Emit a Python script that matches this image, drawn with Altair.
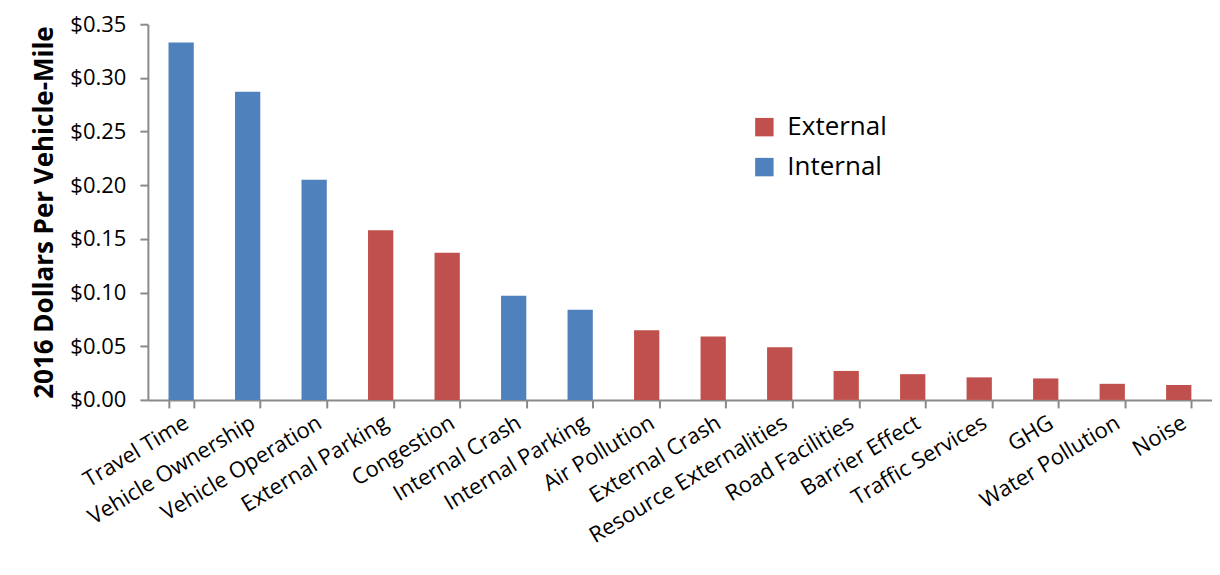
import altair as alt
import pandas as pd

categories = ["Travel Time", "Vehicle Ownership", "Vehicle Operation", "External Parking",
              "Congestion", "Internal Crash", "Internal Parking", "Air Pollution",
              "External Crash", "Resource Externalities", "Road Facilities", "Barrier Effect",
              "Traffic Services", "GHG", "Water Pollution", "Noise"]
values = [0.333, 0.287, 0.205, 0.158, 0.137, 0.097, 0.084, 0.065, 0.059, 0.049,
          0.027, 0.024, 0.021, 0.020, 0.015, 0.014]
types = ["Internal", "Internal", "Internal", "External", "External", "Internal", "Internal",
         "External", "External", "External", "External", "External", "External", "External",
         "External", "External"]

df = pd.DataFrame({"category": categories, "value": values, "type": types})

FONT = "Open Sans"
AXC = "#8a8a8a"

chart = alt.Chart(df).mark_bar().encode(
    x=alt.X("category:N", sort=categories, title=None,
            scale=alt.Scale(paddingInner=0.62, paddingOuter=0.31),
            axis=alt.Axis(labelAngle=-31, labelAlign="right", labelBaseline="top",
                          labelFontSize=22, labelFont=FONT, labelColor="black", labelLimit=0,
                          tickBand="extent", tickSize=8, tickColor=AXC, tickWidth=2,
                          domainColor=AXC, domainWidth=2, labelPadding=4, labelOverlap=False)),
    y=alt.Y("value:Q", title="2016 Dollars Per Vehicle-Mile",
            scale=alt.Scale(domain=[0, 0.35], nice=False),
            axis=alt.Axis(format="$.2f", values=[0, 0.05, 0.1, 0.15, 0.2, 0.25, 0.3, 0.35],
                          grid=False, tickSize=8, tickColor=AXC, tickWidth=2,
                          domainColor=AXC, domainWidth=2,
                          labelFontSize=22, labelFont=FONT, labelColor="black", labelPadding=14,
                          titleFontSize=26, titleFont=FONT, titleFontWeight="bold",
                          titleColor="black", titlePadding=12)),
    color=alt.Color("type:N", scale=alt.Scale(domain=["External", "Internal"],
                                              range=["#C0504D", "#4F81BD"]),
                    legend=alt.Legend(title=None, orient="none", legendX=604, legendY=90,
                                      symbolType="square", symbolSize=340,
                                      symbolStrokeWidth=0, labelFontSize=26, labelFont=FONT,
                                      labelColor="black", rowPadding=14, labelOffset=10)),
).properties(
    width=1065, height=376,
    autosize=alt.AutoSizeParams(type="none"),
    padding={"left": 140, "top": 16, "right": 0, "bottom": 170},
).configure_view(stroke=None)

chart.save("out.html", embed_options={"renderer": "svg", "actions": False})
